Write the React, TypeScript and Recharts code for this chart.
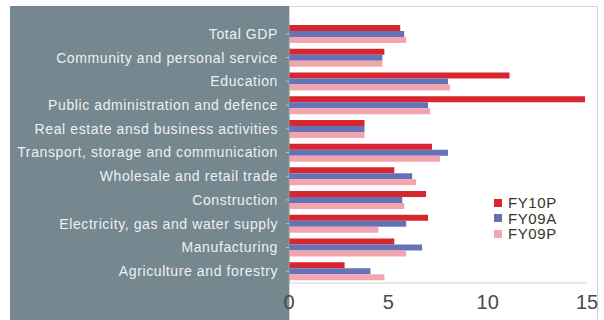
import React from 'react';
import { BarChart, Bar, XAxis, YAxis } from 'recharts';

const categories = [
  'Total GDP',
  'Community and personal service',
  'Education',
  'Public administration and defence',
  'Real estate ansd business activities',
  'Transport, storage and communication',
  'Wholesale and retail trade',
  'Construction',
  'Electricity, gas and water supply',
  'Manufacturing',
  'Agriculture and forestry',
];

const fy10p = [5.6, 4.8, 11.1, 14.9, 3.8, 7.2, 5.3, 6.9, 7.0, 5.3, 2.8];
const fy09a = [5.8, 4.7, 8.0, 7.0, 3.8, 8.0, 6.2, 5.7, 5.9, 6.7, 4.1];
const fy09p = [5.9, 4.7, 8.1, 7.1, 3.8, 7.6, 6.4, 5.8, 4.5, 5.9, 4.8];

const xTicks = [0, 5, 10, 15];

const SERIES = [
  { key: 'FY10P', color: '#d7262e' },
  { key: 'FY09A', color: '#6572b6' },
  { key: 'FY09P', color: '#f3a5af' },
];

const data = categories.map((name, i) => ({
  name,
  FY10P: fy10p[i],
  FY09A: fy09a[i],
  FY09P: fy09p[i],
}));

const FONT = 'Liberation Sans, Arial, sans-serif';

// legend kept outside recharts so it doesn't eat plot space
const LegendBox = () => (
  <div style={{ position: 'absolute', left: 494, top: 195, fontFamily: FONT, fontSize: 15, letterSpacing: 0.6, color: '#333', lineHeight: '15.5px' }}>
    {SERIES.map((s) => (
      <div key={s.key} style={{ display: 'flex', alignItems: 'center', height: 15.5 }}>
        <span style={{ width: 8, height: 8, background: s.color, marginRight: 6, display: 'inline-block' }} />
        <span>{s.key}</span>
      </div>
    ))}
  </div>
);

export default function App() {
  return (
    <div style={{ position: 'fixed', left: 0, top: 0, width: 604, height: 320, background: '#fff', overflow: 'hidden' }}>
      <div style={{ position: 'absolute', left: 10, top: 6, width: 279, height: 314, background: '#75878f' }} />
      <div style={{ position: 'absolute', left: 289, top: 6, width: 309, height: 320, border: '1px solid #d4d4d4', boxSizing: 'border-box' }} />
      <div style={{ position: 'absolute', left: 0, top: 0 }}>
        <BarChart
          width={604}
          height={320}
          data={data}
          layout="vertical"
          margin={{ top: 22, right: 17, left: 0, bottom: 6 }}
          barCategoryGap="12%"
          barGap={0}
          barSize={6}
        >
          <XAxis
            type="number"
            domain={[0, 15]}
            ticks={xTicks}
            height={31}
            axisLine={{ stroke: '#d0d0d0' }}
            tickLine={false}
            tick={{ fill: '#4a4a4a', fontSize: 20, fontFamily: FONT }}
            tickMargin={6}
          />
          <YAxis
            type="category"
            dataKey="name"
            width={289}
            axisLine={{ stroke: '#8a9aa0' }}
            tickLine={{ stroke: '#b8c2c6' }}
            tickSize={3}
            tickMargin={8}
            interval={0}
            tick={{ fill: '#eef1f2', fontSize: 14, fontFamily: FONT, letterSpacing: 0.6 }}
          />
          {SERIES.map((s) => (
            <Bar key={s.key} dataKey={s.key} fill={s.color} isAnimationActive={false} />
          ))}
        </BarChart>
      </div>
      <LegendBox />
    </div>
  );
}
